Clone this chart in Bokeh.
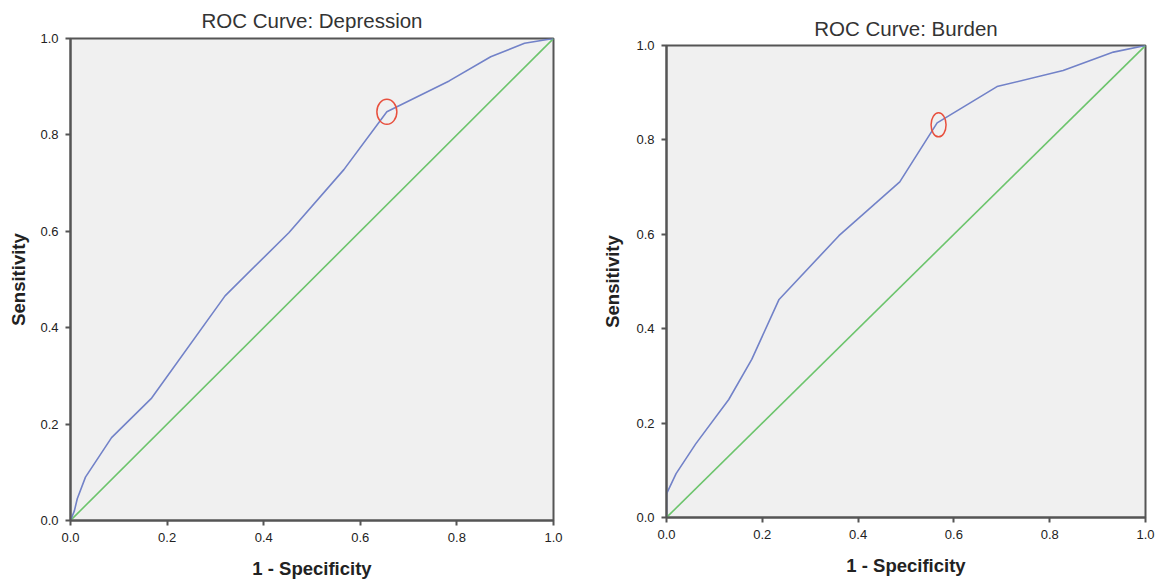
from bokeh.plotting import figure
from bokeh.layouts import row, column
from bokeh.models import Range1d, FixedTicker, PrintfTickFormatter
from bokeh.embed import file_html
from bokeh.resources import INLINE

# ---- data ----
dep_fpr = [0.0, 0.008, 0.014, 0.031, 0.085, 0.168, 0.320, 0.452, 0.566, 0.655, 0.784, 0.870, 0.940, 1.0]
dep_tpr = [0.0, 0.020, 0.045, 0.090, 0.172, 0.254, 0.466, 0.597, 0.728, 0.848, 0.912, 0.962, 0.990, 1.0]
dep_cut = (0.655, 0.848)

bur_fpr = [0.0, 0.0, 0.020, 0.061, 0.130, 0.178, 0.235, 0.360, 0.487, 0.565, 0.690, 0.828, 0.933, 1.0]
bur_tpr = [0.0, 0.050, 0.093, 0.156, 0.250, 0.335, 0.462, 0.597, 0.711, 0.836, 0.913, 0.947, 0.986, 1.0]
bur_cut = (0.568, 0.832)

ref_line = [0.0, 1.0]
ticks = [0.0, 0.2, 0.4, 0.6, 0.8, 1.0]
titles = ["ROC Curve: Depression", "ROC Curve: Burden"]
x_label = "1 - Specificity"
y_label = "Sensitivity"

FONT = "Liberation Sans"
BLUE = "#7282c8"
GREEN = "#6cc46c"
RED = "#e8503e"


def make(title, fx, fy, cut, width, height, bl, br, bt, bb, ew, eh, tstand, tvalign, ylab_stand):
    p = figure(width=width, height=height, output_backend="svg", toolbar_location=None,
               x_range=Range1d(0, 1), y_range=Range1d(0, 1),
               min_border_left=bl, min_border_right=br, min_border_top=bt, min_border_bottom=bb,
               title=title)
    p.background_fill_color = "#f0f0f0"
    p.border_fill_color = "white"
    p.outline_line_color = "#555555"
    p.outline_line_width = 2
    p.title.text_font = FONT
    p.title.text_font_size = "20.5px"
    p.title.text_font_style = "normal"
    p.title.text_color = "#333333"
    p.title.align = "center"
    p.title.standoff = tstand
    p.title.vertical_align = tvalign
    p.xgrid.grid_line_color = None
    p.ygrid.grid_line_color = None
    for ax in (p.xaxis[0], p.yaxis[0]):
        ax.ticker = FixedTicker(ticks=ticks)
        ax.formatter = PrintfTickFormatter(format="%.1f")
        ax.minor_tick_line_color = None
        ax.major_tick_in = 0
        ax.major_tick_out = 5
        ax.major_tick_line_color = "#555555"
        ax.major_tick_line_width = 2
        ax.axis_line_color = "#555555"
        ax.axis_line_width = 2
        ax.major_label_text_font = FONT
        ax.major_label_text_font_size = "13px"
        ax.major_label_text_color = "#222222"
        ax.axis_label_text_font = FONT
        ax.axis_label_text_font_size = "18.5px"
        ax.axis_label_text_font_style = "bold"
        ax.axis_label_text_color = "#222222"
    p.xaxis.axis_label = x_label
    p.yaxis.axis_label = y_label
    p.xaxis.major_label_standoff = 7
    p.yaxis.major_label_standoff = 7
    p.xaxis.axis_label_standoff = 13
    p.yaxis.axis_label_standoff = ylab_stand

    p.line(ref_line, ref_line, line_color=GREEN, line_width=1.6)
    p.line(fx, fy, line_color=BLUE, line_width=1.6)
    p.ellipse(x=[cut[0]], y=[cut[1]], width=ew, height=eh,
              width_units="screen", height_units="screen",
              fill_color=None, line_color=RED, line_width=1.5)
    return p


p1 = make(titles[0], dep_fpr, dep_tpr, dep_cut, 577, 585, 70, 24, 38, 65, 20, 25, 12, "middle", 8)
p2 = make(titles[1], bur_fpr, bur_tpr, bur_cut, 590, 585, 89, 22, 45, 68, 15, 24, 12, "bottom", 10)

layout = row(column(p1), column(p2), spacing=0)
open("out.html", "w").write(file_html(layout, INLINE))
